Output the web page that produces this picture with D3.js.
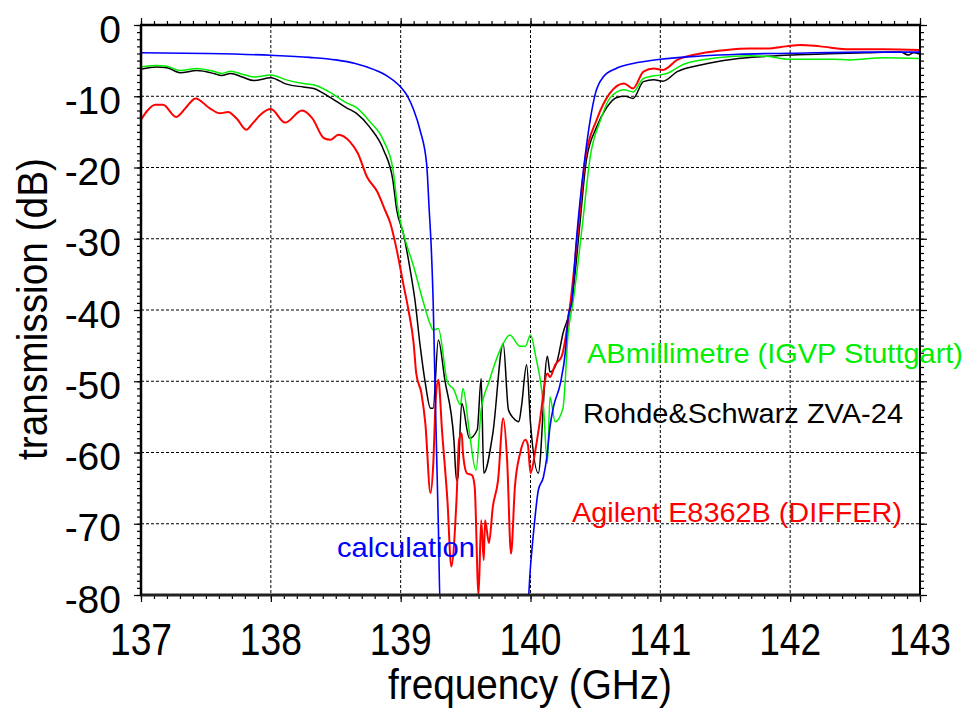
<!DOCTYPE html>
<html>
<head>
<meta charset="utf-8">
<script src="https://cdn.jsdelivr.net/npm/d3@7"></script>
<style>
html,body{margin:0;padding:0;background:#fff;}
text{font-family:"Liberation Sans",Arial,sans-serif;}
</style>
</head>
<body>
<svg id="chart" width="968" height="715"></svg>
<script>
// ---- data ----
const xTicks = [137, 138, 139, 140, 141, 142, 143];
const yTicks = [0, -10, -20, -30, -40, -50, -60, -70, -80];

const calcFreq = [137.0,137.5,138.0,138.3,138.5,138.65,138.8,138.9,139.0,139.05,139.1,139.15,139.2,139.22,139.235,139.25,139.27,139.29,139.305,
  139.975,140.0,140.03,140.06,140.1,140.126,140.15,140.177,140.23,140.27,140.29,140.32,140.35,140.38,140.42,140.46,140.5,140.56,140.66,140.79,141.0,141.31,141.6,142.0,142.59,143.0];
const calcDb = [-3.9,-4.0,-4.25,-4.55,-4.9,-5.4,-6.3,-7.2,-8.7,-9.9,-11.9,-14.8,-19.5,-26,-31,-38.6,-55,-70,-82,
  -82,-76,-70,-65.3,-63.4,-60.6,-56.4,-53.6,-50.3,-45.6,-40.9,-38.6,-31,-25,-18.5,-13.3,-9.6,-7.3,-6.1,-5.4,-4.8,-4.35,-4.1,-3.97,-3.8,-3.8];

const abmFreq = [137.0,137.12,137.2,137.3,137.43,137.56,137.62,137.69,137.78,137.87,138.0,138.12,138.25,138.33,138.46,138.58,138.66,138.76,138.87,138.94,138.98,139.02,139.1,139.17,139.23,139.25,139.29,139.36,139.41,139.46,139.48,139.53,139.58,139.62,139.68,139.79,139.84,139.92,139.96,140.0,140.04,140.1,140.13,140.15,140.19,140.25,140.29,140.33,140.4,140.46,140.54,140.61,140.72,140.79,140.87,141.0,141.05,141.18,141.44,141.69,141.82,142.0,142.33,142.46,142.72,143.0];
const abmDb = [-5.9,-5.7,-5.8,-6.4,-6.1,-6.5,-6.8,-6.5,-6.9,-7.3,-7.0,-7.7,-8.2,-8.4,-9.5,-10.9,-11.6,-13.5,-16.3,-20.2,-26,-29.2,-33.9,-38.6,-42.1,-42.8,-42.6,-50.1,-51.2,-53.3,-51.0,-57.3,-62.5,-54.0,-50.1,-44.7,-43.5,-45.1,-45.1,-43.5,-46.5,-53.6,-61.5,-52.2,-55.7,-53.8,-43.3,-38.6,-28,-18.5,-13.3,-10.3,-9.1,-9.4,-7.5,-7.0,-6.8,-5.5,-4.6,-4.3,-4.4,-4.8,-4.8,-4.9,-4.6,-4.7];

const rsFreq = [137.0,137.12,137.2,137.3,137.43,137.56,137.62,137.69,137.78,137.87,138.0,138.12,138.25,138.33,138.46,138.58,138.66,138.76,138.87,138.94,138.97,139.02,139.07,139.11,139.15,139.19,139.23,139.25,139.29,139.34,139.41,139.43,139.44,139.47,139.53,139.59,139.62,139.64,139.71,139.79,139.83,139.87,139.91,139.93,139.97,140.0,140.06,140.13,140.15,140.2,140.25,140.32,140.38,140.43,140.51,140.59,140.66,140.73,140.79,140.87,140.95,141.02,141.13,141.31,141.56,141.82,142.0,142.2,142.59,142.85,142.91,142.95,143.0];
const rsDb = [-6.2,-5.9,-6.0,-6.7,-6.4,-6.8,-7.1,-6.8,-7.3,-7.8,-7.4,-8.3,-8.7,-8.9,-10.2,-11.6,-12.4,-14.3,-17.6,-21.8,-26,-29.2,-34,-38.6,-45,-50.3,-53.8,-53.8,-44.2,-49.8,-58.2,-63.9,-63.6,-53.1,-58.0,-56.8,-49.6,-62.9,-57.3,-44.7,-54.0,-55.2,-55.7,-53.6,-47.7,-55.9,-62.9,-46.5,-48.7,-47.5,-43.3,-38.6,-28,-19,-14.3,-11.5,-10.2,-10.0,-10.3,-7.95,-7.7,-7.9,-6.55,-5.6,-4.8,-4.4,-4.2,-4.1,-3.9,-3.8,-4.2,-3.9,-4.1];

const agFreq = [137.0,137.05,137.11,137.17,137.27,137.35,137.42,137.53,137.61,137.67,137.74,137.81,137.86,137.92,138.0,138.11,138.24,138.32,138.41,138.46,138.52,138.61,138.67,138.74,138.82,138.88,138.92,138.97,139.02,139.06,139.1,139.12,139.16,139.19,139.23,139.25,139.27,139.29,139.32,139.36,139.39,139.43,139.45,139.47,139.48,139.51,139.55,139.57,139.6,139.62,139.64,139.65,139.68,139.71,139.75,139.79,139.82,139.85,139.88,139.92,139.96,139.98,140.0,140.04,140.07,140.13,140.15,140.19,140.24,140.31,140.37,140.42,140.51,140.61,140.72,140.79,140.87,140.95,141.02,141.13,141.31,141.51,141.69,141.82,141.97,142.08,142.23,142.46,142.72,143.0];
const agDb = [-13.3,-12.0,-11.2,-11.2,-12.9,-11.5,-10.3,-11.7,-12.4,-12.2,-13.2,-14.7,-13.8,-12.6,-11.8,-13.7,-12.0,-13.1,-15.9,-16.1,-15.4,-16.4,-18.0,-21.3,-23.4,-26,-27.8,-31.6,-36.3,-40,-44.7,-48.9,-51.7,-55.9,-65.7,-62,-52.6,-49.8,-57.3,-66.7,-76.0,-66.7,-58.2,-57.3,-60.1,-62.9,-63.2,-64.8,-80,-69.5,-75.1,-69.5,-72.7,-67.6,-63.9,-55.2,-61.1,-74.2,-64.8,-60.1,-58.2,-58.9,-62.9,-59.4,-55.9,-48.9,-49.4,-47.7,-46.5,-38.6,-28,-19,-13.3,-9.6,-8.2,-8.9,-6.55,-6.1,-6.3,-4.9,-4.0,-3.5,-3.3,-3.3,-3.0,-2.8,-3.0,-3.4,-3.4,-3.5];

const seriesNames = ["Rohde&Schwarz ZVA-24", "ABmillimetre (IGVP Stuttgart)", "Agilent E8362B (DIFFER)", "calculation"];

// ---- layout ----
const svg = d3.select("#chart");
const L = 141, R = 920, T = 25, B = 595;
const x = d3.scaleLinear().domain([137, 143]).range([L, R]);
const y = d3.scaleLinear().domain([-80, 0]).range([B, T]);

// grid
const grid = svg.append("g").attr("stroke", "#000").attr("stroke-width", 1).attr("stroke-dasharray", "3,2").attr("fill", "none");
xTicks.slice(1, -1).forEach(v => grid.append("line").attr("x1", x(v)).attr("x2", x(v)).attr("y1", T).attr("y2", B));
yTicks.slice(1, -1).forEach(v => grid.append("line").attr("x1", L).attr("x2", R).attr("y1", y(v)).attr("y2", y(v)));

// clip
svg.append("clipPath").attr("id", "clip").append("rect").attr("x", L).attr("y", T).attr("width", R - L).attr("height", B - T);

const line = d3.line().x(d => x(d[0])).y(d => y(d[1])).curve(d3.curveMonotoneX);
const series = [
  {f: rsFreq, v: rsDb, c: "#000000", w: 1.5},
  {f: abmFreq, v: abmDb, c: "#00ee00", w: 1.5},
  {f: agFreq, v: agDb, c: "#ff0000", w: 2},
  {f: calcFreq, v: calcDb, c: "#0000ff", w: 1.6}
];
const plot = svg.append("g").attr("clip-path", "url(#clip)");
series.forEach(s => {
  plot.append("path").datum(s.f.map((f, i) => [f, s.v[i]]))
    .attr("d", line).attr("fill", "none").attr("stroke", s.c).attr("stroke-width", s.w)
    .attr("stroke-linejoin", "round");
});

// axes (ticks outside on all four sides)
const minorX = d3.range(137, 143.001, 0.1);
const minorY = d3.range(-80, 0.001, 1);
function axisPair(axisFn, scale, tr, majors, minors) {
  const gMin = svg.append("g").attr("transform", tr)
    .call(axisFn(scale).tickValues(minors).tickSize(4).tickSizeOuter(0).tickFormat(""));
  const gMaj = svg.append("g").attr("transform", tr)
    .call(axisFn(scale).tickValues(majors).tickSize(7).tickSizeOuter(0).tickFormat(""));
  [gMin, gMaj].forEach(g => { g.select(".domain").remove(); g.selectAll("line").attr("stroke", "#000").attr("stroke-width", 1.2); });
}
axisPair(d3.axisBottom, x, `translate(0,${B})`, xTicks, minorX);
axisPair(d3.axisTop, x, `translate(0,${T})`, xTicks, minorX);
axisPair(d3.axisLeft, y, `translate(${L},0)`, yTicks, minorY);
axisPair(d3.axisRight, y, `translate(${R},0)`, yTicks, minorY);

// frame
svg.append("line").attr("x1", L - 1).attr("x2", R + 1).attr("y1", B).attr("y2", B).attr("stroke", "#222").attr("stroke-width", 3);
svg.append("line").attr("x1", L - 1).attr("x2", R + 1).attr("y1", T).attr("y2", T).attr("stroke", "#000").attr("stroke-width", 2.5);
svg.append("line").attr("x1", L).attr("x2", L).attr("y1", T).attr("y2", B).attr("stroke", "#000").attr("stroke-width", 2.5);
svg.append("line").attr("x1", R).attr("x2", R).attr("y1", T).attr("y2", B).attr("stroke", "#000").attr("stroke-width", 2);

// tick labels
svg.append("g").selectAll("text").data(xTicks).join("text")
  .attr("x", d => x(d)).attr("y", 655).attr("text-anchor", "middle")
  .attr("font-size", 44).attr("textLength", 62).attr("lengthAdjust", "spacingAndGlyphs")
  .text(d => d);
svg.append("g").selectAll("text").data(yTicks).join("text")
  .attr("x", 121).attr("y", d => y(d)).attr("dy", "0.45em").attr("text-anchor", "end")
  .attr("font-size", 39)
  .text(d => d);

// axis titles
svg.append("text").attr("x", 530).attr("y", 699).attr("text-anchor", "middle")
  .attr("font-size", 42).attr("textLength", 284).attr("lengthAdjust", "spacingAndGlyphs")
  .text("frequency (GHz)");
svg.append("text").attr("transform", "translate(47,309) rotate(-90)").attr("text-anchor", "middle")
  .attr("font-size", 43).attr("textLength", 302).attr("lengthAdjust", "spacingAndGlyphs")
  .text("transmission (dB)");

// labels
const labels = [
  {t: seriesNames[1], x: 587, y: 363, len: 376, c: "#00ee00"},
  {t: seriesNames[0], x: 583, y: 423, len: 320, c: "#000000"},
  {t: seriesNames[2], x: 572, y: 522, len: 330, c: "#ff0000"},
  {t: seriesNames[3], x: 337, y: 557, len: 138, c: "#0000ff"}
];
svg.append("g").selectAll("text").data(labels).join("text")
  .attr("x", d => d.x).attr("y", d => d.y).attr("fill", d => d.c)
  .attr("font-size", 28.5).attr("textLength", d => d.len).attr("lengthAdjust", "spacingAndGlyphs")
  .text(d => d.t);
</script>
</body>
</html>
